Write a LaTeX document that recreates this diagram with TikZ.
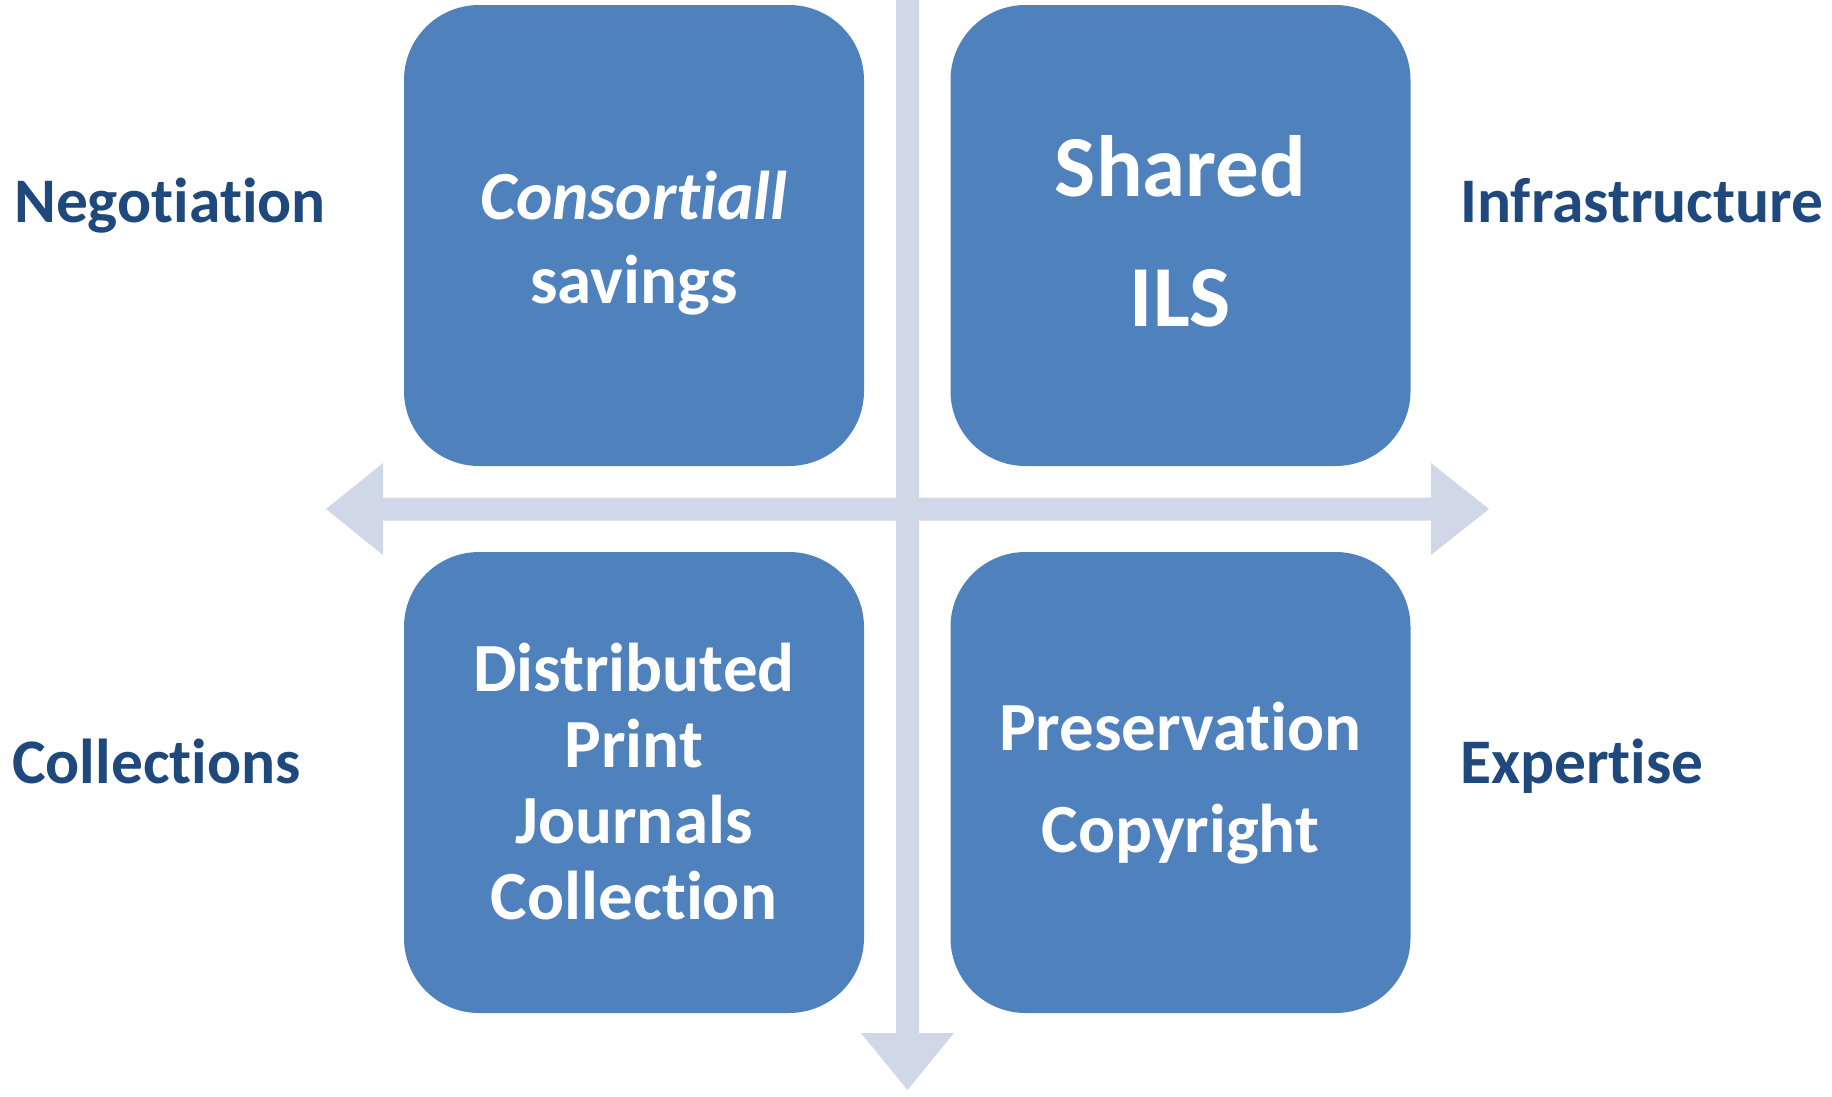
\documentclass[tikz,border=0pt]{standalone}
\usepackage{fontspec}
\setmainfont{Carlito}[Ligatures=NoCommon]
\definecolor{boxblue}{HTML}{4F81BD}
\definecolor{barcol}{HTML}{D0D8E8}
\definecolor{labcol}{HTML}{1F497D}
\begin{document}
\begin{tikzpicture}[x=1pt,y=-1pt,
  quad/.style={fill=boxblue, draw=none, rounded corners=75pt, minimum width=460pt, minimum height=461pt, inner sep=0pt},
  quadtext/.style={inner sep=0pt, text=white, align=center},
  sidelabel/.style={anchor=base west, inner sep=0pt, text=labcol, font=\bfseries\fontsize{63.5}{76}\selectfont},
  axis/.style={fill=barcol, draw=none}]
\useasboundingbox (0,0) rectangle (1832,1096);
% axes
\coordinate (hl) at (326,509);
\coordinate (hr) at (1489,509);
\coordinate (vt) at (907.5,0);
\coordinate (vb) at (907.5,1090);
\fill[axis] (hl) -- ++(57,-46) -- ++(0,34.5) -- (1431,497.5) -- (1431,463) -- (hr) -- (1431,555) -- (1431,520.5) -- (383,520.5) -- (383,555) -- cycle;
\fill[axis] (896,0) -- (919,0) -- (919,1033) -- (954,1033) -- (vb) -- (861,1033) -- (896,1033) -- cycle;
% boxes
\node[quad] (tl) at (634,235.5) {};
\node[quad] (tr) at (1180.5,235.5) {};
\node[quad] (bl) at (634,782.5) {};
\node[quad] (br) at (1180.5,782.5) {};
\node[quadtext, font=\bfseries\fontsize{69}{84}\selectfont] (tlt) at ([yshift=-8pt]tl.center) {\textit{Consortiall}\\ savings};
\node[quadtext, font=\bfseries\fontsize{87}{130}\selectfont] (trt) at ([yshift=4pt]tr.center) {Shared\\ ILS};
\node[quadtext, font=\bfseries\fontsize{69}{76}\selectfont] (blt) at ([yshift=1pt]bl.center) {Distributed\\ Print\\ Journals\\ Collection};
\node[quadtext, font=\bfseries\fontsize{69}{102}\selectfont] (brt) at ([yshift=-1pt]br.center) {Preservation\\ Copyright};
% labels
\node[sidelabel] (neg) at (14,222) {Negotiation};
\node[sidelabel] (inf) at (1460,222) {Infrastructure};
\node[sidelabel] (col) at (12,783) {Collections};
\node[sidelabel] (exp) at (1460,783) {Expertise};
\end{tikzpicture}
\end{document}
